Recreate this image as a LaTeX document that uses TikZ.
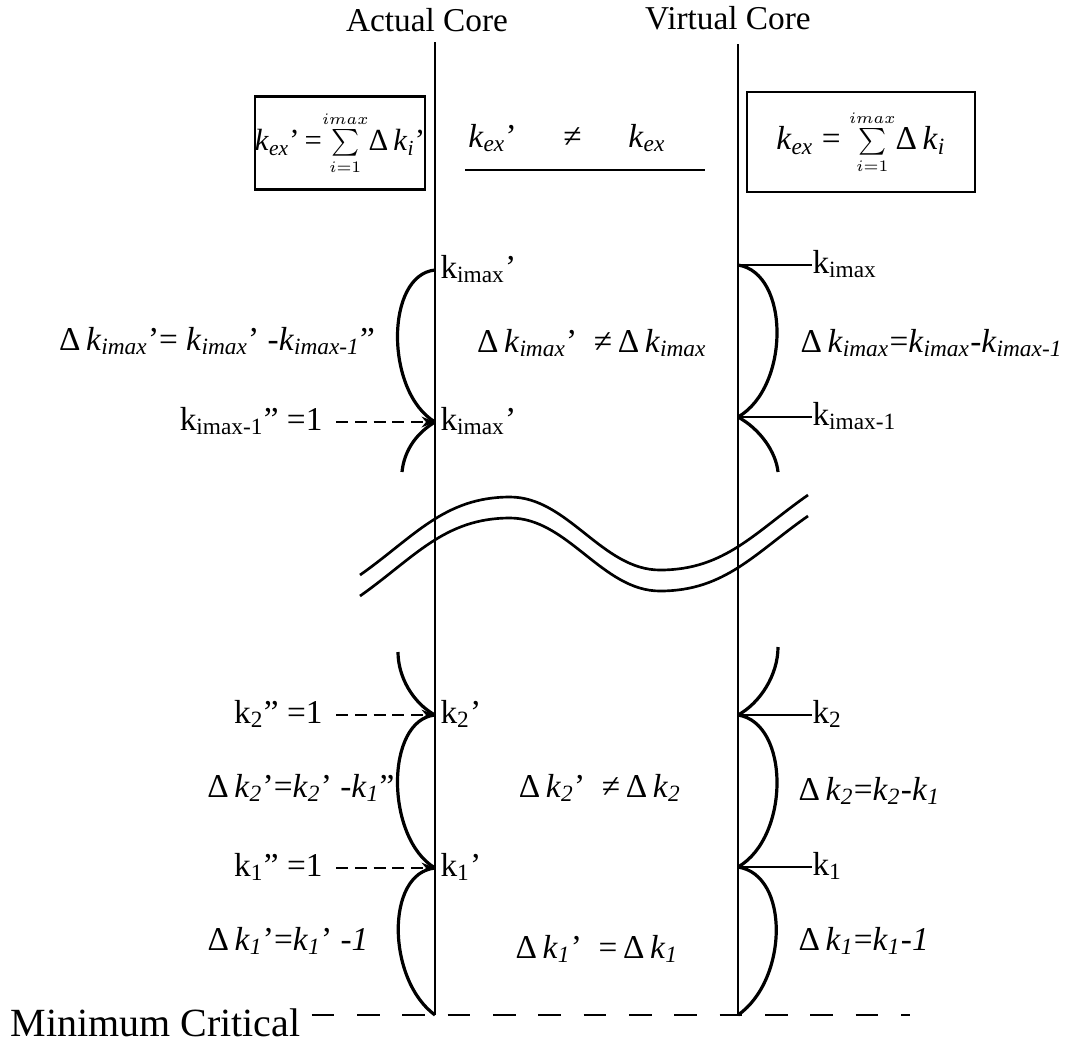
\documentclass[tikz,border=0pt]{standalone}
\usepackage{fontspec}
\setmainfont{Liberation Serif}[ItalicFont={Liberation Serif Italic}]
\usetikzlibrary{arrows.meta,positioning,calc}

\newcommand{\ki}[1]{\textit{k}\textsubscript{\textit{#1}}}
\newcommand{\kr}[1]{k\textsubscript{#1}}
\newcommand{\pr}{’}
\newcommand{\ppr}{”}
\newcommand{\dk}{Δ\,}
\newcommand{\sumi}{$\sum\limits_{\scriptscriptstyle i=1}^{\scriptscriptstyle imax}$}

\begin{document}
\begin{tikzpicture}[x=0.375pt,y=-0.375pt,
    every node/.style={font=\fontsize{12.5}{15}\selectfont, inner sep=0pt},
    core/.style={line width=1pt},
    bow/.style={line width=1.2pt},
    feed/.style={line width=0.9pt, dash pattern=on 4.5pt off 2.5pt, -{Stealth[length=5pt,width=4pt]}, shorten <=5pt},
    crit/.style={line width=1pt, dash pattern=on 8.5pt off 8.5pt, shorten <=4pt},
    eqbox/.style={draw, line width=1pt, inner sep=0pt, minimum width=61.5pt, minimum height=35pt}]
    \useasboundingbox (0,0) rectangle (1070,1044);

    % the two cores
    \node (actual) at (427,20) {Actual Core};
    \node (virtual) at (728,18) {Virtual Core};
    \coordinate (atop) at (435,42);
    \coordinate (vtop) at (738,44);
    \coordinate (a0) at (435,1015);
    \coordinate (b0) at (738,1015);
    \draw[core] (atop) -- (a0);
    \draw[core] (vtop) -- (b0);

    % k_ex sums
    \node[eqbox, font=\fontsize{11.5}{14}\selectfont] (sumL) at (340,143) {\ki{ex}\pr\,=\sumi\dk\ki{i}\pr};
    \node[eqbox, minimum width=85.5pt, minimum height=37.5pt] (sumR) at (861,142) {\ki{ex} = \sumi\dk\ki{i}};
    \node (neq) at (567,138) {\ki{ex}\pr\hspace{1.4em}≠\hspace{1.4em}\ki{ex}};
    \coordinate (u1) at (465,170);
    \coordinate (u2) at (705,170);
    \draw[core] (u1) -- (u2);

    % junctions on the cores
    \coordinate (am) at (435,270);  \coordinate (am1) at (435,422);
    \coordinate (a2) at (435,715);  \coordinate (a1) at (435,868);
    \coordinate (bm) at (738,265);  \coordinate (bm1) at (738,417);
    \coordinate (b2) at (738,715);  \coordinate (b1) at (738,867);
    \coordinate (aup) at (402,472); \coordinate (alo) at (398,652);
    \coordinate (bup) at (778,472); \coordinate (blo) at (778,647);

    % bows, actual core
    \draw[bow] (am) .. controls +(-50,5) and +(-50,-30) .. (am1);
    \draw[bow] (am1) .. controls +(-20,12) and +(2,-20) .. (aup);
    \draw[bow] (alo) .. controls +(0,25) and +(-22,-12) .. (a2);
    \draw[bow] (a2) .. controls +(-50,5) and +(-50,-30) .. (a1);
    \draw[bow] (a1) .. controls +(-50,5) and +(-48,-35) .. (a0);

    % bows, virtual core
    \draw[bow] (bm) .. controls +(52,8) and +(52,-30) .. (bm1);
    \draw[bow] (bm1) .. controls +(22,12) and +(-2,-20) .. (bup);
    \draw[bow] (blo) .. controls +(0,28) and +(22,-12) .. (b2);
    \draw[bow] (b2) .. controls +(52,8) and +(52,-30) .. (b1);
    \draw[bow] (b1) .. controls +(52,8) and +(50,-35) .. (b0);

    % labels at the actual core
    \node[anchor=base west] (lm) at (440,278) {\kr{imax}\pr};
    \node[anchor=base west] (lm1) at (440,430) {\kr{imax}\pr};
    \node[anchor=base west] (l2) at (440,723) {\kr{2}\pr};
    \node[anchor=base west] (l1) at (440,876) {\kr{1}\pr};

    \node[anchor=base east] (qm1) at (323,430) {\kr{imax-1}\ppr\ =1};
    \node[anchor=base east] (q2) at (323,723) {\kr{2}\ppr\ =1};
    \node[anchor=base east] (q1) at (323,876) {\kr{1}\ppr\ =1};
    \draw[feed] (qm1.east |- am1) -- (am1);
    \draw[feed] (q2.east |- a2) -- (a2);
    \draw[feed] (q1.east |- a1) -- (a1);

    \node[anchor=base] (dam) at (217,350) {\dk\ki{imax}\pr= \ki{imax}\pr\ -\ki{imax-1}\ppr};
    \node[anchor=base] (da2) at (301,797) {\dk\ki{2}\pr=\ki{2}\pr\ -\ki{1}\ppr};
    \node[anchor=base] (da1) at (288,950) {\dk\ki{1}\pr=\ki{1}\pr\ \textit{-1}};

    % labels at the virtual core
    \node[anchor=base west] (rm) at (812,273) {\kr{imax}};
    \node[anchor=base west] (rm1) at (812,425) {\kr{imax-1}};
    \node[anchor=base west] (r2) at (812,723) {\kr{2}};
    \node[anchor=base west] (r1) at (812,875) {\kr{1}};
    \draw[core] (bm) -- (bm -| rm.west);
    \draw[core] (bm1) -- (bm1 -| rm1.west);
    \draw[core] (b2) -- (b2 -| r2.west);
    \draw[core] (b1) -- (b1 -| r1.west);

    \node[anchor=base west] (dbm) at (800,352) {\dk\ki{imax}=\ki{imax}-\ki{imax-1}};
    \node[anchor=base west] (db2) at (798,800) {\dk\ki{2}=\ki{2}-\ki{1}};
    \node[anchor=base west] (db1) at (798,950) {\dk\ki{1}=\ki{1}-\textit{1}};

    % comparison in between
    \node[anchor=base] (cm) at (592,352) {\dk\ki{imax}\pr\ \ ≠\,\dk\ki{imax}};
    \node[anchor=base] (c2) at (600,797) {\dk\ki{2}\pr\ \ ≠\,\dk\ki{2}};
    \node[anchor=base] (c1) at (597,958) {\dk\ki{1}\pr\ \ =\,\dk\ki{1}};

    % break
    \draw[core] (360,575) .. controls (414,537) and (444,497) .. (510,497)
        .. controls (568,497) and (602,570) .. (660,570)
        .. controls (725,570) and (755,532) .. (808,495);
    \draw[core] (360,596) .. controls (414,558) and (444,518) .. (510,518)
        .. controls (568,518) and (602,591) .. (660,591)
        .. controls (725,591) and (755,553) .. (808,516);

    % minimum critical
    \node[anchor=base west, font=\fontsize{15}{18}\selectfont] (minc) at (10,1036) {Minimum Critical};
    \coordinate (cend) at (910,1015);
    \draw[crit] (minc.east |- a0) -- (cend);
\end{tikzpicture}
\end{document}
